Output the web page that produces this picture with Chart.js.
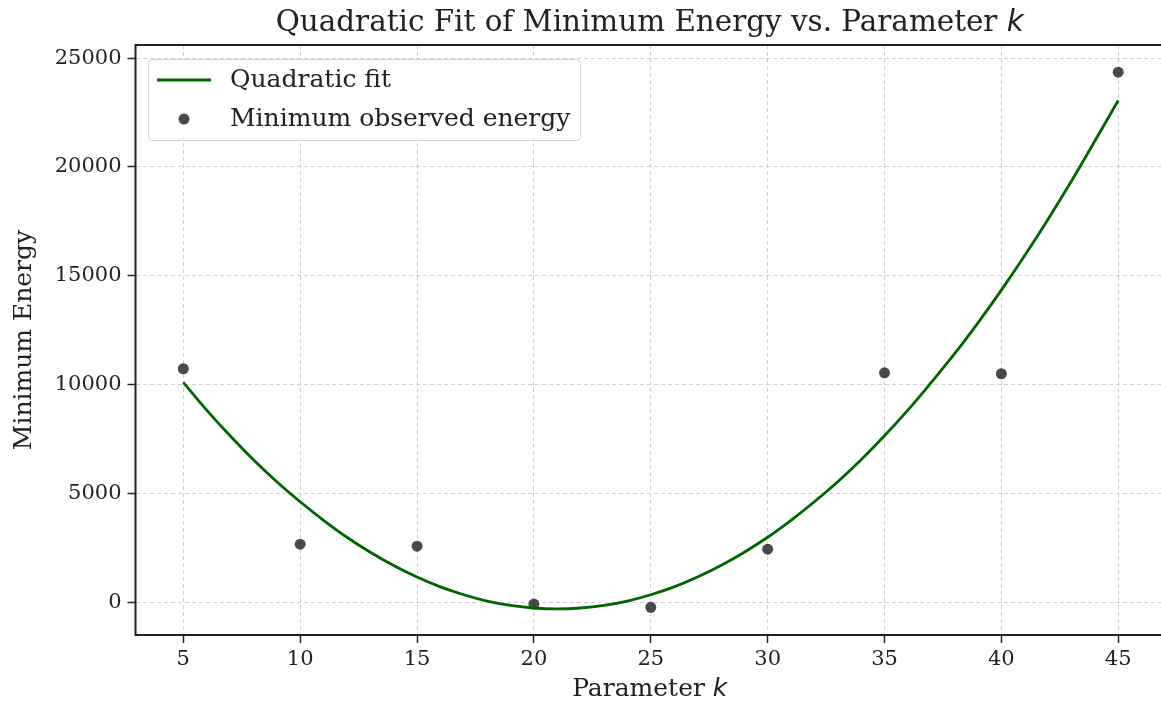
<!DOCTYPE html>
<html>
<head>
<meta charset="utf-8">
<script src="https://cdn.jsdelivr.net/npm/chart.js@4.4.1/dist/chart.umd.min.js"></script>
<style>
    html, body { margin: 0; padding: 0; background: #fff; }
    #wrap { width: 1161px; height: 705px; }
</style>
</head>
<body>
<div id="wrap"><canvas id="chart" width="1161" height="705"></canvas></div>
<script>
// --- Data ---
const obsK = [5, 10, 15, 20, 25, 30, 35, 40, 45];
const obsEnergy = [10730, 2670, 2580, -80, -230, 2440, 10540, 10500, 24350];

// fitted curve at each integer k
const fitK = [5, 6, 7, 8, 9, 10, 11, 12, 13, 14, 15, 16, 17, 18, 19, 20, 21, 22, 23, 24, 25,
    26, 27, 28, 29, 30, 31, 32, 33, 34, 35, 36, 37, 38, 39, 40, 41, 42, 43, 44, 45];
const fitEnergy = [10100, 8830, 7650, 6550, 5540, 4620, 3770, 2990, 2300, 1690, 1160, 710, 350, 60, -140, -260, -300, -260, -140, 60, 350,
    710, 1160, 1690, 2300, 2990, 3770, 4620, 5540, 6550, 7650, 8830, 10100, 11420, 12840, 14340, 15930, 17600, 19350, 21190, 23050];

const xTicks = [5, 10, 15, 20, 25, 30, 35, 40, 45];
const yTicks = [0, 5000, 10000, 15000, 20000, 25000];

const SERIF = "'DejaVu Serif', serif";
const INK = '#222222';

// --- Helpers ---
function drawMixed(ctx, parts, cx, cy) {
    let total = 0;
    parts.forEach(p => { ctx.font = p.font; total += ctx.measureText(p.text).width; });
    let x = cx - total / 2;
    ctx.textAlign = 'left';
    ctx.textBaseline = 'middle';
    parts.forEach(p => {
        ctx.font = p.font;
        ctx.fillText(p.text, x, cy);
        x += ctx.measureText(p.text).width;
    });
}

// --- Custom plugin: titles, spines, legend ---
const decorPlugin = {
    id: 'decor',
    afterDatasetsDraw(chart) {
        const { ctx, chartArea: a } = chart;
        // left, top and bottom spines (right one falls just past the canvas edge)
        ctx.save();
        ctx.strokeStyle = INK;
        ctx.lineWidth = 2;
        ctx.beginPath();
        ctx.moveTo(a.right + 2, a.top);
        ctx.lineTo(a.left, a.top);
        ctx.lineTo(a.left, a.bottom);
        ctx.lineTo(a.right + 2, a.bottom);
        ctx.stroke();
        ctx.restore();
    },
    afterDraw(chart) {
        const { ctx, chartArea: a } = chart;
        const cx = (a.left + 1164) / 2;
        ctx.save();
        ctx.fillStyle = INK;

        // title
        drawMixed(ctx, [
            { text: 'Quadratic Fit of Minimum Energy vs. Parameter ', font: `29.4px ${SERIF}` },
            { text: 'k', font: "italic 29.4px 'DejaVu Sans'" }
        ], cx, 23);

        // x label
        drawMixed(ctx, [
            { text: 'Parameter ', font: `25px ${SERIF}` },
            { text: 'k', font: "italic 25px 'DejaVu Sans'" }
        ], cx, 689);

        // y label
        ctx.save();
        ctx.translate(24, (a.top + a.bottom) / 2);
        ctx.rotate(-Math.PI / 2);
        drawMixed(ctx, [{ text: 'Minimum Energy', font: `25px ${SERIF}` }], 0, 0);
        ctx.restore();

        // legend
        const lx = 148.5, ly = 59.5, lw = 432, lh = 81;
        ctx.fillStyle = 'rgba(255,255,255,0.85)';
        ctx.strokeStyle = '#d4d4d4';
        ctx.lineWidth = 1;
        ctx.beginPath();
        ctx.roundRect(lx, ly, lw, lh, 4);
        ctx.fill();
        ctx.stroke();

        const ds = chart.data.datasets;
        ctx.strokeStyle = ds[0].borderColor;
        ctx.lineWidth = 3;
        ctx.beginPath();
        ctx.moveTo(157, 80);
        ctx.lineTo(211, 80);
        ctx.stroke();

        ctx.fillStyle = ds[1].backgroundColor;
        ctx.beginPath();
        ctx.arc(184, 119, 5.5, 0, Math.PI * 2);
        ctx.fill();

        ctx.fillStyle = INK;
        ctx.font = `25px ${SERIF}`;
        ctx.textAlign = 'left';
        ctx.textBaseline = 'middle';
        ctx.fillText(ds[0].label, 230, 80);
        ctx.fillText(ds[1].label, 230, 119);
        ctx.restore();
    }
};

// --- Chart ---
const ctx = document.getElementById('chart').getContext('2d');
new Chart(ctx, {
    type: 'scatter',
    data: {
        datasets: [{
            type: 'line',
            label: 'Quadratic fit',
            data: fitK.map((k, i) => ({ x: k, y: fitEnergy[i] })),
            borderColor: '#006400',
            borderWidth: 2.8,
            pointRadius: 0,
            tension: 0.4,
            fill: false,
            order: 0
        }, {
            label: 'Minimum observed energy',
            data: obsK.map((k, i) => ({ x: k, y: obsEnergy[i] })),
            backgroundColor: 'rgba(34, 34, 34, 0.82)',
            borderColor: 'rgba(34, 34, 34, 0.82)',
            borderWidth: 0,
            pointRadius: 5.5,
            order: 1
        }]
    },
    options: {
        responsive: false,
        animation: false,
        devicePixelRatio: 1,
        layout: { autoPadding: false, padding: { top: 45, right: 0, left: 0, bottom: 0 } },
        plugins: { legend: { display: false }, title: { display: false }, tooltip: { enabled: false } },
        scales: {
            x: {
                type: 'linear',
                min: 2.955, max: 46.83,
                afterBuildTicks: s => { s.ticks = xTicks.map(v => ({ value: v })); },
                afterFit: s => { s.height = 70; s.paddingLeft = 0; s.paddingRight = 0; },
                grid: { color: '#d0d0d0', lineWidth: 1, tickLength: 8, tickColor: INK, tickWidth: 1.5 },
                border: { display: false, dash: [4, 3] },
                ticks: { color: INK, font: { family: SERIF, size: 21 }, padding: 4, maxRotation: 0 }
            },
            y: {
                type: 'linear',
                min: -1500, max: 25600,
                afterBuildTicks: s => { s.ticks = yTicks.map(v => ({ value: v })); },
                afterFit: s => { s.width = 135.5; s.paddingTop = 0; s.paddingBottom = 0; },
                grid: { color: '#d0d0d0', lineWidth: 1, tickLength: 8, tickColor: INK, tickWidth: 1.5 },
                border: { display: false, dash: [4, 3] },
                ticks: { color: INK, font: { family: SERIF, size: 21 }, padding: 6, callback: v => String(v) }
            }
        }
    },
    plugins: [decorPlugin]
});
</script>
</body>
</html>
